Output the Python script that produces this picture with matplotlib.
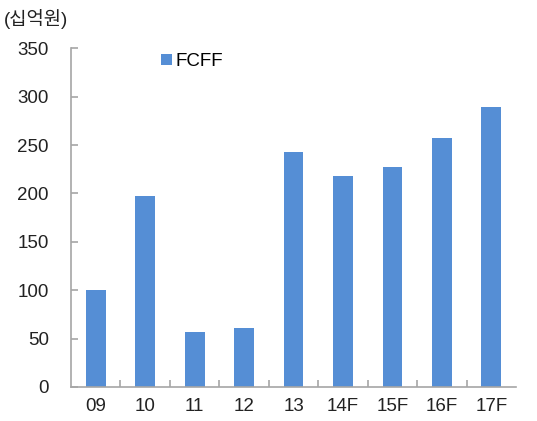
import matplotlib
matplotlib.use("Agg")
import matplotlib.pyplot as plt
import numpy as np

plt.rcParams['font.family'] = ['Liberation Sans', 'Noto Sans CJK KR', 'DejaVu Sans']

categories = ["09", "10", "11", "12", "13", "14F", "15F", "16F", "17F"]
fcff = [100, 197, 57, 61, 243, 218, 227, 257, 289]
yticks = [0, 50, 100, 150, 200, 250, 300, 350]

bar_color = "#558ED5"
axis_color = "#A6A6A6"
text_color = "#222222"
fs = 13.5

fig = plt.figure(figsize=(5.37, 4.21), dpi=100)
ax = fig.add_axes([0.1322, 0.0808, 0.8288, 0.8045])

x = np.arange(len(categories))
ax.bar(x, fcff, width=0.4, color=bar_color, label="FCFF", zorder=2)

ax.set_xlim(-0.5, len(categories) - 0.5)
ax.set_ylim(0, 350)
ax.set_yticks(yticks)
ax.set_yticklabels([str(v) for v in yticks], fontsize=fs, color=text_color)
ax.set_xticks(x)
ax.set_xticklabels(categories, fontsize=fs, color=text_color)
ax.set_xticks(np.arange(0.5, len(categories) - 0.5, 1), minor=True)

for side in ("top", "right"):
    ax.spines[side].set_visible(False)
for side in ("left", "bottom"):
    ax.spines[side].set_color(axis_color)
    ax.spines[side].set_linewidth(1.2)

ax.tick_params(axis="y", direction="in", length=5, width=1.2, color=axis_color, pad=16)
ax.tick_params(axis="x", which="major", length=0, pad=8)
ax.tick_params(axis="x", which="minor", direction="in", length=5, width=1.2, color=axis_color)

leg = ax.legend(loc="upper left", bbox_to_anchor=(0.165, 1.035), frameon=False,
                fontsize=fs, handlelength=0.55, handleheight=0.55, handletextpad=0.2)

fig.text(0.008, 0.955, "(십억원)", fontsize=fs, color=text_color, ha="left", va="center")

fig.savefig("out.png", dpi=100)
